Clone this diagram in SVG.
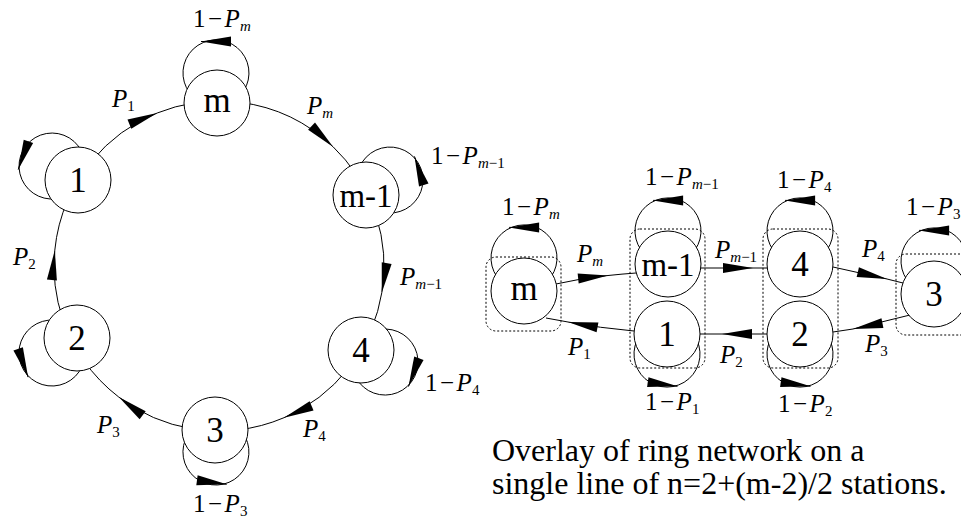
<svg xmlns="http://www.w3.org/2000/svg" width="961" height="521" viewBox="0 0 961 521">
<style>
.nd circle{fill:#fff;stroke:#000;stroke-width:1}
.nl{font-family:"Liberation Serif","Times New Roman",serif;font-size:35px;text-anchor:middle;fill:#000}
.e{fill:none;stroke:#000;stroke-width:1;marker-mid:url(#ah)}
.lp{fill:none;stroke:#000;stroke-width:1}
.ar{fill:none;stroke:#000;stroke-width:1;marker-end:url(#ah)}
.box{fill:none;stroke:#000;stroke-width:1;stroke-dasharray:2 2}
.lab{font-family:"Liberation Serif","Times New Roman",serif;font-size:25px;fill:#000}
.mn{letter-spacing:2.5px}
.it{font-style:italic}
.sub{font-size:15px}
.cap{font-family:"Liberation Serif","Times New Roman",serif;font-size:32px;fill:#000}
</style>
<defs>
<marker id="ah" markerUnits="userSpaceOnUse" orient="auto" markerWidth="32" markerHeight="12" viewBox="-31 -6 32 12" refX="0" refY="0" overflow="visible">
<path d="M0,0 L-30,-5 L-30,5 Z" fill="#000"/>
</marker>
</defs>

<g id="connectors">
<!-- ring edges -->
<path class="e" d="M91.5,161.3 A165,165 0 0 1 157.2,113 A165,165 0 0 1 194,102.9"/>
<path class="e" d="M240,102.3 A165,165 0 0 1 333.2,146.9 A165,165 0 0 1 356.1,174.2"/>
<path class="e" d="M376.1,215.6 A165,165 0 0 1 381.8,292.7 A165,165 0 0 1 371.3,329.4"/>
<path class="e" d="M348,368.9 A165,165 0 0 1 284,417.7 A165,165 0 0 1 238,429.9"/>
<path class="e" d="M192.1,428.8 A165,165 0 0 1 118.8,397.1 A165,165 0 0 1 83.7,360.4"/>
<path class="e" d="M62.9,319.4 A165,165 0 0 1 54.8,250.2 A165,165 0 0 1 67.6,200.5"/>
<!-- ring self-loops -->
<path class="lp" d="M243.6,91 A33,33 0 1 0 189.6,92.8"/>
<path class="ar" d="M231,41.5 L201,41.5"/>
<path class="lp" d="M81.4,151 A33,33 0 1 0 56,198.8"/>
<path class="ar" d="M28.4,141.5 L18.2,169.6"/>
<path class="lp" d="M388.3,213 A33,33 0 1 0 359.6,167.1"/>
<path class="ar" d="M423.7,184.7 L414.5,156.4"/>
<path class="lp" d="M54.3,320.1 A33,33 0 1 0 82.1,366.4"/>
<path class="ar" d="M18.2,349 L28.1,377.2"/>
<path class="lp" d="M380.2,329.4 A33,33 0 1 1 356,377.7"/>
<path class="ar" d="M418.8,358.6 L408.5,386.5"/>
<path class="lp" d="M188.1,434.3 A33,33 0 1 0 242.1,431.9"/>
<path class="ar" d="M197.2,480.3 L226.7,484.3"/>
<!-- line edges -->
<path class="e" d="M556,284 Q582,278 608,275.5 Q622,274 636,273"/>
<path class="e" d="M634,331 Q600,328 568,322 Q557,320 546,318"/>
<path class="e" d="M701,268 L753,268 L767,268"/>
<path class="e" d="M767,334 L722,334 L700,334"/>
<path class="e" d="M833,267 L887,279 L903,283"/>
<path class="e" d="M910,315 L853,329 L833,332"/>
<!-- line self-loops -->
<path class="lp" d="M551,276.9 A33,33 0 1 0 497,276.9"/>
<path class="ar" d="M538.9,227.4 L509.1,227.4"/>
<path class="lp" d="M695,249.9 A33,33 0 1 0 641,249.9"/>
<path class="ar" d="M682.9,200.4 L653.1,200.4"/>
<path class="lp" d="M827,249.9 A33,33 0 1 0 773,249.9"/>
<path class="ar" d="M814.9,200.4 L785.1,200.4"/>
<path class="lp" d="M961,279.9 A33,33 0 1 0 907,279.9"/>
<path class="ar" d="M948.9,230.4 L919.1,230.4"/>
<path class="lp" d="M640,335.1 A33,33 0 1 0 694,335.1"/>
<path class="ar" d="M648,382.2 L677.5,386.3"/>
<path class="lp" d="M773,335.1 A33,33 0 1 0 827,335.1"/>
<path class="ar" d="M781,382.2 L810.5,386.3"/>
</g>

<!-- ring nodes -->
<g id="ring-m" class="nd"><circle cx="217" cy="103" r="33"/><text class="nl" x="217" y="112">m</text></g>
<g id="ring-m-1" class="nd"><circle cx="366" cy="195" r="33"/><text class="nl" x="366" y="207" style="font-size:33px">m-1</text></g>
<g id="ring-4" class="nd"><circle cx="361" cy="350" r="33"/><text class="nl" x="361" y="362">4</text></g>
<g id="ring-3" class="nd"><circle cx="215" cy="430" r="33"/><text class="nl" x="215" y="442">3</text></g>
<g id="ring-2" class="nd"><circle cx="77" cy="338" r="33"/><text class="nl" x="77" y="350">2</text></g>
<g id="ring-1" class="nd"><circle cx="78" cy="180" r="33"/><text class="nl" x="78" y="192">1</text></g>

<!-- line nodes -->
<g id="line-m" class="nd"><circle cx="524" cy="291" r="33"/><text class="nl" x="524" y="300">m</text></g>
<g id="line-m-1" class="nd"><circle cx="668" cy="264" r="33"/><text class="nl" x="668" y="276" style="font-size:33px">m-1</text></g>
<g id="line-1" class="nd"><circle cx="667" cy="334" r="33"/><text class="nl" x="667" y="346">1</text></g>
<g id="line-4" class="nd"><circle cx="800" cy="264" r="33"/><text class="nl" x="800" y="276">4</text></g>
<g id="line-2" class="nd"><circle cx="800" cy="334" r="33"/><text class="nl" x="800" y="346">2</text></g>
<g id="line-3" class="nd"><circle cx="934" cy="294" r="33"/><text class="nl" x="934" y="306">3</text></g>

<g id="stations">
<rect class="box" x="486" y="257" width="75" height="74" rx="10"/>
<rect class="box" x="630" y="229" width="75" height="139" rx="10"/>
<rect class="box" x="763" y="229" width="75" height="139" rx="10"/>
<rect class="box" x="896" y="254" width="80" height="81" rx="10"/>
</g>

<g id="labels">
<text class="lab" x="193" y="27"><tspan class="mn">1−</tspan><tspan class="it">P</tspan><tspan class="sub it" dy="4">m</tspan></text>
<text class="lab" x="112" y="107"><tspan class="it">P</tspan><tspan class="sub" dy="4">1</tspan></text>
<text class="lab" x="307" y="114"><tspan class="it">P</tspan><tspan class="sub it" dy="4">m</tspan></text>
<text class="lab" x="431" y="164"><tspan class="mn">1−</tspan><tspan class="it">P</tspan><tspan class="sub" dy="4"><tspan class="it">m</tspan>−1</tspan></text>
<text class="lab" x="400" y="285"><tspan class="it">P</tspan><tspan class="sub" dy="4"><tspan class="it">m</tspan>−1</tspan></text>
<text class="lab" x="425" y="391"><tspan class="mn">1−</tspan><tspan class="it">P</tspan><tspan class="sub" dy="4">4</tspan></text>
<text class="lab" x="303" y="437"><tspan class="it">P</tspan><tspan class="sub" dy="4">4</tspan></text>
<text class="lab" x="193" y="512"><tspan class="mn">1−</tspan><tspan class="it">P</tspan><tspan class="sub" dy="4">3</tspan></text>
<text class="lab" x="97" y="433"><tspan class="it">P</tspan><tspan class="sub" dy="4">3</tspan></text>
<text class="lab" x="13" y="265"><tspan class="it">P</tspan><tspan class="sub" dy="4">2</tspan></text>

<text class="lab" x="502" y="215"><tspan class="mn">1−</tspan><tspan class="it">P</tspan><tspan class="sub it" dy="4">m</tspan></text>
<text class="lab" x="577" y="262"><tspan class="it">P</tspan><tspan class="sub it" dy="4">m</tspan></text>
<text class="lab" x="568" y="355"><tspan class="it">P</tspan><tspan class="sub" dy="4">1</tspan></text>
<text class="lab" x="645" y="185"><tspan class="mn">1−</tspan><tspan class="it">P</tspan><tspan class="sub" dy="4"><tspan class="it">m</tspan>−1</tspan></text>
<text class="lab" x="645" y="410"><tspan class="mn">1−</tspan><tspan class="it">P</tspan><tspan class="sub" dy="4">1</tspan></text>
<text class="lab" x="715" y="258"><tspan class="it">P</tspan><tspan class="sub" dy="4"><tspan class="it">m</tspan>−1</tspan></text>
<text class="lab" x="720" y="363"><tspan class="it">P</tspan><tspan class="sub" dy="4">2</tspan></text>
<text class="lab" x="777" y="188"><tspan class="mn">1−</tspan><tspan class="it">P</tspan><tspan class="sub" dy="4">4</tspan></text>
<text class="lab" x="778" y="412"><tspan class="mn">1−</tspan><tspan class="it">P</tspan><tspan class="sub" dy="4">2</tspan></text>
<text class="lab" x="862" y="257"><tspan class="it">P</tspan><tspan class="sub" dy="4">4</tspan></text>
<text class="lab" x="865" y="352"><tspan class="it">P</tspan><tspan class="sub" dy="4">3</tspan></text>
<text class="lab" x="906" y="215"><tspan class="mn">1−</tspan><tspan class="it">P</tspan><tspan class="sub" dy="4">3</tspan></text>
</g>

<g id="caption">
<text class="cap" x="492" y="461">Overlay of ring network on a</text>
<text class="cap" x="492" y="494">single line of n=2+(m-2)/2 stations.</text>
</g>
</svg>
